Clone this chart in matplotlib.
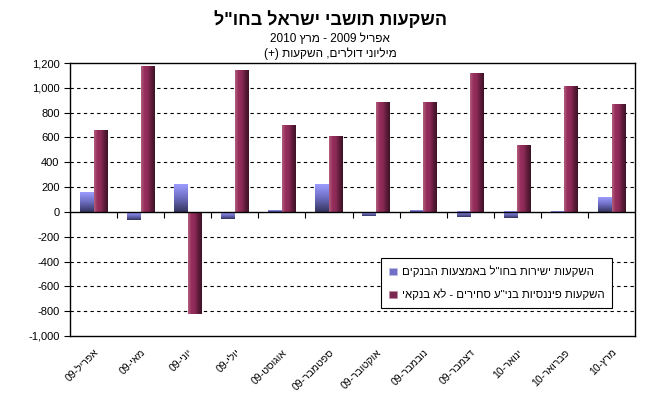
import re
import numpy as np
import matplotlib
matplotlib.use("Agg")
import matplotlib.pyplot as plt
from matplotlib.colors import LinearSegmentedColormap
from matplotlib.ticker import FuncFormatter


def heb(s):
    # matplotlib לא מטפל בכיוון ימין-לשמאל: הופכים את המחרוזת, מספרים נשארים משמאל לימין
    s = re.sub(r"[0-9][0-9,.]*", lambda m: m.group()[::-1], s[::-1])
    return s.translate(str.maketrans("()", ")("))


months = ["אפריל", "מאי", "יוני", "יולי", "אוגוסט", "ספטמבר",
          "אוקטובר", "נובמבר", "דצמבר", "ינואר", "פברואר", "מרץ"]
years = ["09", "09", "09", "09", "09", "09", "09", "09", "09", "10", "10", "10"]

# השקעות ישירות בחו"ל באמצעות הבנקים
direct = [160, -62, 222, -56, 16, 225, -30, 16, -43, -50, -12, 118]
# השקעות פיננסיות בני"ע סחירים - לא בנקאי
financial = [659, 1173, -822, 1143, 694, 605, 885, 880, 1114, 533, 1009, 864]

title = 'השקעות תושבי ישראל בחו"ל'
subtitle1 = "אפריל 2009 - מרץ 2010"
subtitle2 = "מיליוני דולרים, השקעות (+)"
legend_labels = ['השקעות ישירות בחו"ל באמצעות הבנקים',
                 'השקעות פיננסיות בני"ע סחירים - לא בנקאי']

plt.rcParams['font.family'] = ['Liberation Sans', 'DejaVu Sans']

fig = plt.figure(figsize=(6.5, 3.97), dpi=100)
ax = fig.add_axes([0.1077, 0.1537, 0.8693, 0.6876])

x = np.arange(len(months))
w = 0.29
b1 = ax.bar(x - w / 2, direct, w, color="#8080e0")
b2 = ax.bar(x + w / 2, financial, w, color="#7a2850")

# מילוי מדורג לעמודות
blue_cmap = LinearSegmentedColormap.from_list("b", ["#34345e", "#6c6cc0", "#9c9cff"])
red_cmap = LinearSegmentedColormap.from_list("r", ["#b0607e", "#962d5c", "#8a2a55", "#5e1c3a", "#3e1226"])
for p in b1:
    x0, y0 = p.get_x(), p.get_y()
    x1, y1 = x0 + p.get_width(), y0 + p.get_height()
    grad = np.linspace(0, 1, 64).reshape(-1, 1)
    ax.imshow(grad, cmap=blue_cmap, aspect="auto", origin="lower",
              extent=(x0, x1, min(y0, y1), max(y0, y1)), zorder=2)
    p.set_visible(False)
for p in b2:
    x0, y0 = p.get_x(), p.get_y()
    x1, y1 = x0 + p.get_width(), y0 + p.get_height()
    grad = np.linspace(0, 1, 64).reshape(1, -1)
    ax.imshow(grad, cmap=red_cmap, aspect="auto",
              extent=(x0, x1, min(y0, y1), max(y0, y1)), zorder=2)
    p.set_visible(False)

ax.set_xlim(-0.5, len(months) - 0.5)
ax.set_ylim(-1000, 1200)
ax.set_yticks(range(-1000, 1201, 200))
ax.yaxis.set_major_formatter(FuncFormatter(lambda v, _: f"{int(v):,}"))
ax.tick_params(axis="y", labelsize=8, length=4, width=0.8)

for yv in range(-800, 1001, 200):
    if yv != 0:
        ax.axhline(yv, color="black", lw=0.8, ls=(0, (3, 3)), zorder=1)
ax.axhline(0, color="black", lw=1, zorder=3)

ax.set_xticks(x)
ax.set_xticklabels([heb(m + "-" + y) for m, y in zip(months, years)],
                   rotation=45, ha="right", rotation_mode="anchor", fontsize=7.5)
ax.tick_params(axis="x", length=0, pad=8)

sec = ax.secondary_xaxis(1000 / 2200)
sec.set_xticks(np.arange(0.5, len(months) - 1, 1))
sec.set_xticklabels([])
sec.tick_params(length=4, width=0.8, direction="out")
sec.spines["bottom"].set_visible(False)

for s in ax.spines.values():
    s.set_linewidth(1)

ax.set_xlim(-0.5, len(months) - 0.5)
ax.set_ylim(-1000, 1200)

fig.text(0.508, 0.95, heb(title), ha="center", va="center", fontsize=13, fontweight="bold")
fig.text(0.508, 0.902, heb(subtitle1), ha="center", va="center", fontsize=8.5)
fig.text(0.508, 0.865, heb(subtitle2), ha="center", va="center", fontsize=8.5)

h1 = plt.Rectangle((0, 0), 1, 1, fc="#7070c8", ec="#c0c0e0", lw=0.5)
h2 = plt.Rectangle((0, 0), 1, 1, fc="#7a2850", ec="#c090a8", lw=0.5)
leg = ax.legend([h1, h2], [heb(l) for l in legend_labels], loc="lower left",
                bbox_to_anchor=(0.541, 0.08), fontsize=8.2, frameon=True, fancybox=False,
                edgecolor="black", handlelength=0.7, handleheight=0.7, handletextpad=0.4,
                labelspacing=1.0, borderpad=0.7, framealpha=1)
leg.get_frame().set_linewidth(0.8)

fig.savefig("out.png", dpi=100)
